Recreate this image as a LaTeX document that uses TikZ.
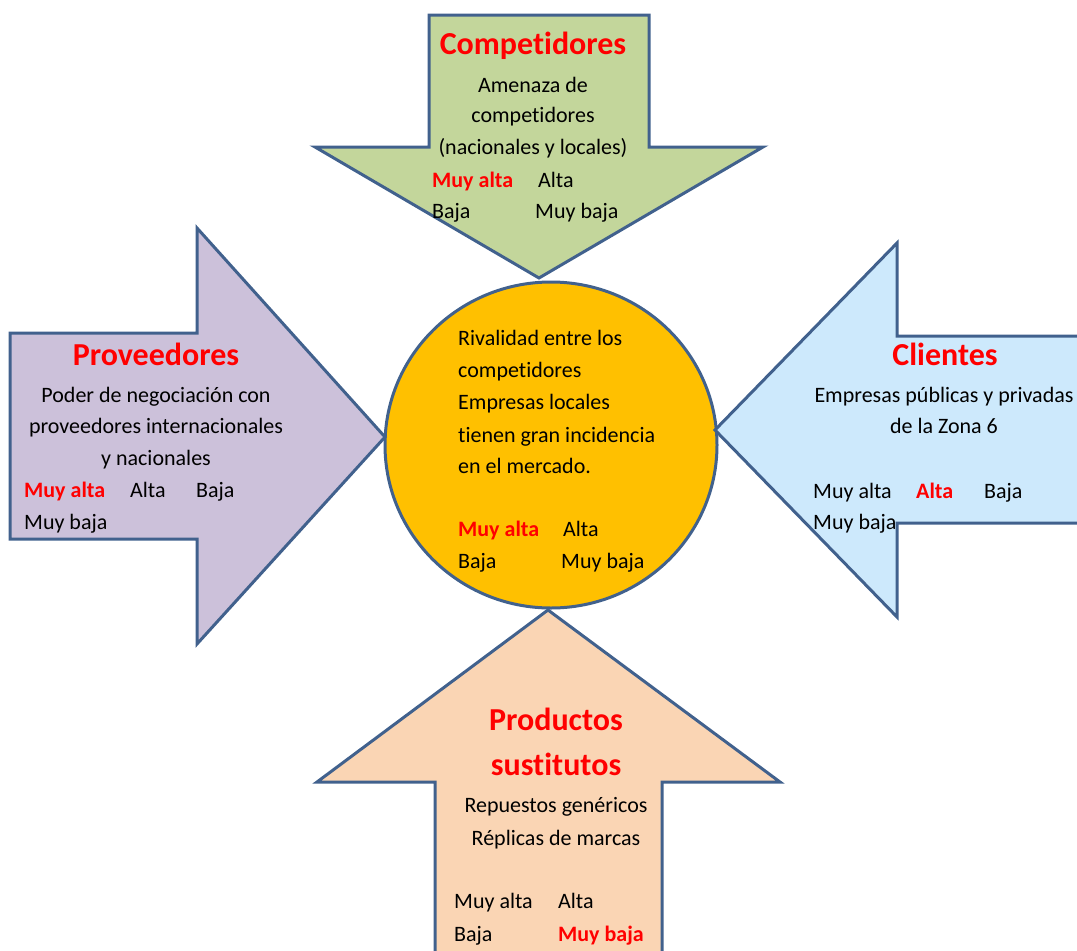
\documentclass[tikz,border=0pt]{standalone}
\usepackage{fontspec}
\setmainfont{Carlito}[Ligatures={NoCommon,NoRequired,NoContextual}, Contextuals=NoAlternate]
\usetikzlibrary{shapes.geometric}

\definecolor{edge}{HTML}{41618D}
\definecolor{greenfill}{HTML}{C3D69B}
\definecolor{purplefill}{HTML}{CCC1DA}
\definecolor{bluefill}{HTML}{CDE9FC}
\definecolor{peachfill}{HTML}{FAD5B4}
\definecolor{goldfill}{HTML}{FFC000}
\definecolor{hot}{HTML}{FF0000}

\tikzset{
  force/.style={draw=edge, line width=3pt, line join=miter},
  txt/.style={inner sep=0pt, font=\fontsize{22}{32}\selectfont, text=black},
  heading/.style={inner sep=0pt, font=\fontsize{32}{44}\selectfont\bfseries, text=hot},
  chosen/.style={inner sep=0pt, font=\fontsize{22}{32}\selectfont\bfseries, text=hot},
}

\begin{document}
\begin{tikzpicture}[x=1pt, y=-1pt]
\useasboundingbox (0,0) rectangle (1077,951);

% central force: rivalry
\node[ellipse, draw=edge, line width=3pt, fill=goldfill,
      minimum width=332pt, minimum height=326pt, inner sep=0pt] (rival) at (551,445) {};

\begin{scope}
\clip (0,0) rectangle (1077,951);
% competitors (down arrow)
\draw[force, fill=greenfill] (429,15) -- (649,15) -- (649,147) -- (763,147)
  -- (539,278) -- (315,147) -- (429,147) -- cycle;
% suppliers (right-pointing arrow)
\draw[force, fill=purplefill] (10,333) -- (197,333) -- (197,228) -- (385,437)
  -- (197,644) -- (197,539) -- (10,539) -- cycle;
% customers (left-pointing arrow)
\draw[force, fill=bluefill] (1095,336) -- (897,336) -- (897,243) -- (715,430)
  -- (897,617) -- (897,523) -- (1095,523);
% substitutes (up arrow)
\draw[force, fill=peachfill] (435,970) -- (435,782) -- (317,782) -- (548,610)
  -- (780,782) -- (662,782) -- (662,970);
\end{scope}

% competitors text
\node[heading, anchor=base] (compT) at (533,54) {Competidores};
\node[txt, anchor=base] (comp1) at (533,92) {Amenaza de};
\node[txt, anchor=base] (comp2) at (533,122) {competidores};
\node[txt, anchor=base] (comp3) at (533,154) {(nacionales y locales)};
\node[chosen, anchor=base west] (compA) at (432,187) {Muy alta};
\node[txt, anchor=base west] (compB) at (538,187) {Alta};
\node[txt, anchor=base west] (compC) at (432,218) {Baja};
\node[txt, anchor=base west] (compD) at (535,218) {Muy baja};

% suppliers text
\node[heading, anchor=base] (provT) at (156,365) {Proveedores};
\node[txt, anchor=base] (prov1) at (156,402) {Poder de negociación con};
\node[txt, anchor=base] (prov2) at (156,433) {proveedores internacionales};
\node[txt, anchor=base] (prov3) at (156,465) {y nacionales};
\node[chosen, anchor=base west] (provA) at (24,497) {Muy alta};
\node[txt, anchor=base west] (provB) at (130,497) {Alta};
\node[txt, anchor=base west] (provC) at (196,497) {Baja};
\node[txt, anchor=base west] (provD) at (24,529) {Muy baja};

% customers text
\node[heading, anchor=base] (cliT) at (945,365) {Clientes};
\node[txt, anchor=base] (cli1) at (944,402) {Empresas públicas y privadas};
\node[txt, anchor=base] (cli2) at (944,433) {de la Zona 6};
\node[txt, anchor=base west] (cliA) at (813,498) {Muy alta};
\node[chosen, anchor=base west] (cliB) at (916,498) {Alta};
\node[txt, anchor=base west] (cliC) at (984,498) {Baja};
\node[txt, anchor=base west] (cliD) at (813,529) {Muy baja};

% substitutes text
\node[heading, anchor=base] (subT1) at (556,730) {Productos};
\node[heading, anchor=base] (subT2) at (556,775) {sustitutos};
\node[txt, anchor=base] (sub1) at (556,812) {Repuestos genéricos};
\node[txt, anchor=base] (sub2) at (556,845) {Réplicas de marcas};
\node[txt, anchor=base west] (subA) at (454,908) {Muy alta};
\node[txt, anchor=base west] (subB) at (558,908) {Alta};
\node[txt, anchor=base west] (subC) at (454,941) {Baja};
\node[chosen, anchor=base west] (subD) at (558,941) {Muy baja};

% rivalry text
\node[txt, anchor=base west] (riv1) at (458,345) {Rivalidad entre los};
\node[txt, anchor=base west] (riv2) at (458,377) {competidores};
\node[txt, anchor=base west] (riv3) at (458,409) {Empresas locales};
\node[txt, anchor=base west] (riv4) at (458,442) {tienen gran incidencia};
\node[txt, anchor=base west] (riv5) at (458,473) {en el mercado.};
\node[chosen, anchor=base west] (rivA) at (458,536) {Muy alta};
\node[txt, anchor=base west] (rivB) at (563,536) {Alta};
\node[txt, anchor=base west] (rivC) at (458,568) {Baja};
\node[txt, anchor=base west] (rivD) at (561,568) {Muy baja};
\end{tikzpicture}
\end{document}
